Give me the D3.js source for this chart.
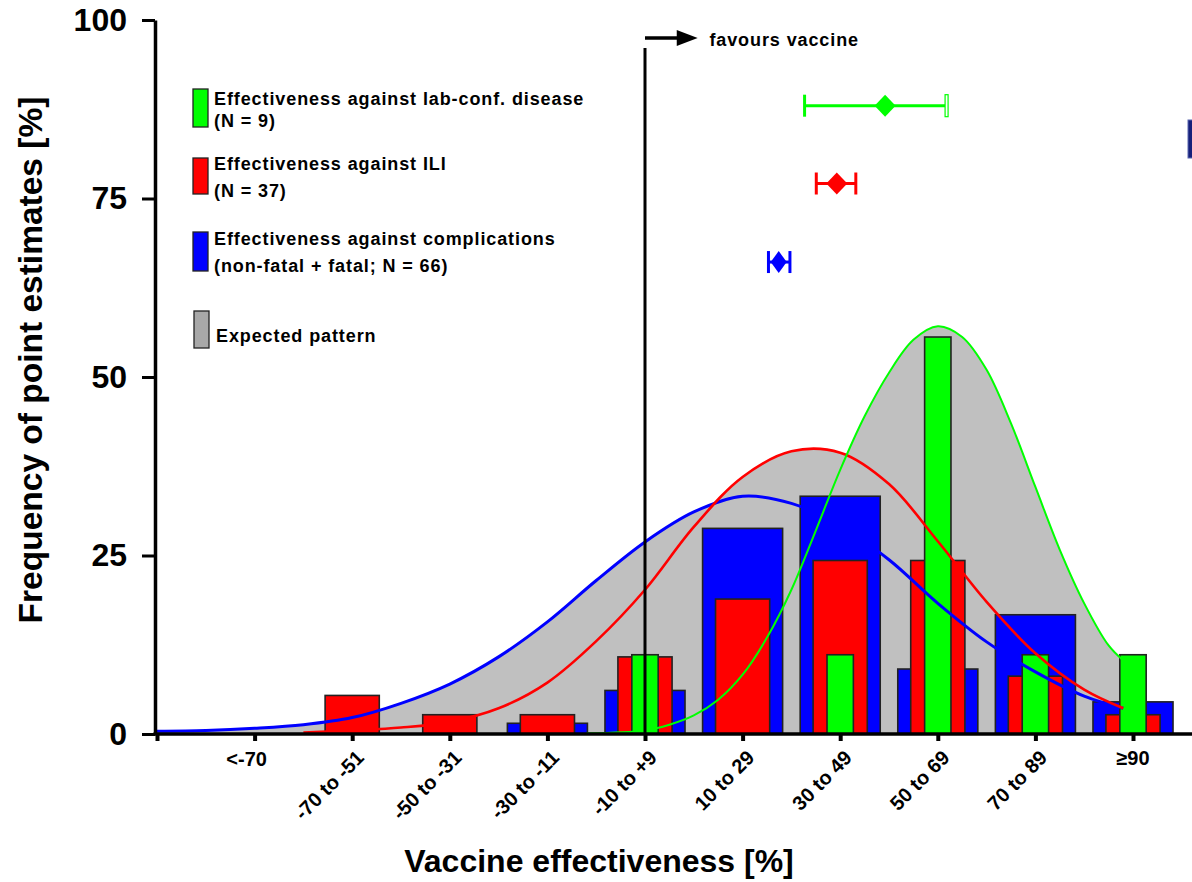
<!DOCTYPE html>
<html>
<head>
<meta charset="utf-8">
<script src="https://cdn.jsdelivr.net/npm/d3@7"></script>
<style>
body { margin: 0; background: #fff; }
text { font-family: Arial, "Liberation Sans", sans-serif; }
</style>
</head>
<body>
<script>
// categories (bins of vaccine effectiveness, %)
var bins = ["<-70", "-70 to -51", "-50 to -31", "-30 to -11", "-10 to +9", "10 to 29", "30 to 49", "50 to 69", "70 to 89", "\u226590"];
var binMid = [-80, -60, -40, -20, 0, 20, 40, 60, 80, 100];

// frequency of point estimates [%] per bin
var complications = [0, 0, 0, 1.5, 6.1, 28.8, 33.3, 9.1, 16.7, 4.5];
var ili = [0, 5.4, 2.7, 2.7, 10.8, 18.9, 24.3, 24.3, 8.1, 2.7];
var labConf = [0, 0, 0, 0, 11.1, 0, 11.1, 55.6, 11.1, 11.1];

// fitted curves
var compFitVE = [-100, -90, -80, -70, -60, -50, -40, -30, -20, -10, 0, 10, 20, 30, 40, 50, 60, 70, 80, 90, 98];
var compFit = [0.4, 0.5, 0.8, 1.3, 2.3, 4.3, 7.0, 10.8, 15.7, 21.5, 26.9, 31.1, 33.3, 32.3, 29.2, 24.4, 18.3, 12.9, 8.7, 5.3, 3.6];
var iliFitVE = [-70, -60, -50, -40, -30, -20, -10, 0, 10, 20, 30, 40, 50, 60, 70, 80, 90, 98];
var iliFit = [0.2, 0.5, 0.9, 1.7, 3.6, 7.2, 13.0, 20.2, 29.0, 36.0, 39.6, 39.4, 35.0, 27.0, 18.5, 11.3, 6.2, 3.6];
var labFitVE = [-12, 0, 5, 10, 15, 20, 25, 30, 35, 40, 45, 50, 55, 60, 65, 70, 75, 80, 85, 90, 95, 98];
var labFit = [0.1, 0.5, 1.3, 2.6, 4.8, 8.3, 13.5, 20.2, 28.5, 37.0, 44.5, 50.6, 55.2, 57.1, 55.6, 51.0, 43.5, 34.6, 25.8, 18.3, 12.4, 10.3];

// pooled estimates with CI (lab-conf, ILI, complications)
var pooledVE = [49.2, 39.3, 27.4];
var pooledLo = [32.7, 35.1, 25.3];
var pooledHi = [61.8, 43.2, 29.7];
var pooledRow = [88, 77.1, 66.1];

var yTicks = [0, 25, 50, 75, 100];
var xTicks = [-100, -80, -60, -40, -20, 0, 20, 40, 60, 80, 100];

var legendLines = [
    ["Effectiveness against lab-conf. disease", "(N = 9)"],
    ["Effectiveness against ILI", "(N = 37)"],
    ["Effectiveness against complications", "(non-fatal + fatal; N = 66)"],
    ["Expected pattern"]
];

var colBlue = "#0000ff", colRed = "#ff0000", colGreen = "#00ff00", colGray = "#c0c0c0";

var svgWidth = 1192;
var svgHeight = 882;

var svg = d3.select("body")
    .append("svg")
    .attr("width", svgWidth)
    .attr("height", svgHeight);

// scales
var x = d3.scaleLinear().domain([-100, 100]).range([157, 1133]);
var y = d3.scaleLinear().domain([0, 100]).range([734, 20]);
var step = x(20) - x(0);

function fitPoints(ve, vals) {
    return ve.map(function(v, i) { return [v, vals[i]]; });
}
var fits = [
    {pts: fitPoints(compFitVE, compFit), color: colBlue, w: 3},
    {pts: fitPoints(iliFitVE, iliFit), color: colRed, w: 2.6},
    {pts: fitPoints(labFitVE, labFit), color: colGreen, w: 2}
];

// grey "expected pattern" = union of the areas under the fits
var area = d3.area()
    .x(function(d) { return x(d[0]); })
    .y0(y(0))
    .y1(function(d) { return y(d[1]); })
    .curve(d3.curveCatmullRom);

fits.forEach(function(f) {
    svg.append("path")
        .attr("d", area(f.pts))
        .attr("fill", colGray);
});

// bars: blue widest, red, green narrowest, all centred on the bin
var barSeries = [
    {vals: complications, color: colBlue, frac: 0.82},
    {vals: ili, color: colRed, frac: 0.555},
    {vals: labConf, color: colGreen, frac: 0.27}
];

barSeries.forEach(function(s) {
    var bw = step * s.frac;
    svg.append("g").selectAll("rect")
        .data(binMid.map(function(m, i) { return {m: m, v: s.vals[i]}; }).filter(function(d) { return d.v > 0; }))
        .enter()
        .append("rect")
        .attr("x", function(d) { return x(d.m) - bw / 2; })
        .attr("y", function(d) { return y(d.v); })
        .attr("width", bw)
        .attr("height", function(d) { return y(0) - y(d.v); })
        .attr("fill", s.color)
        .attr("stroke", "#222")
        .attr("stroke-width", 1.6);
});

// fitted curves
var line = d3.line()
    .x(function(d) { return x(d[0]); })
    .y(function(d) { return y(d[1]); })
    .curve(d3.curveCatmullRom);

fits.forEach(function(f) {
    svg.append("path")
        .attr("d", line(f.pts))
        .attr("fill", "none")
        .attr("stroke", f.color)
        .attr("stroke-width", f.w);
});

// reference line at 0 and "favours vaccine" arrow
svg.append("line")
    .attr("x1", x(0)).attr("x2", x(0))
    .attr("y1", 48).attr("y2", y(0))
    .attr("stroke", "#000").attr("stroke-width", 3);

svg.append("line")
    .attr("x1", x(0)).attr("x2", x(7))
    .attr("y1", 38).attr("y2", 38)
    .attr("stroke", "#000").attr("stroke-width", 3.5);

svg.append("path")
    .attr("d", "M" + x(6.5) + ",30 L" + x(10.8) + ",38 L" + x(6.5) + ",46 Z")
    .attr("fill", "#000");

svg.append("text")
    .attr("x", x(13.2))
    .attr("y", 46)
    .style("font-size", "18px")
    .style("font-weight", "bold")
    .style("letter-spacing", "0.9px")
    .text("favours vaccine");

// pooled estimates with error bars
var pooledCol = [colGreen, colRed, colBlue];
pooledVE.forEach(function(v, i) {
    var g = svg.append("g");
    var cy = y(pooledRow[i]);
    var c = pooledCol[i];
    g.append("line")
        .attr("x1", x(pooledLo[i])).attr("x2", x(pooledHi[i]))
        .attr("y1", cy).attr("y2", cy)
        .attr("stroke", c).attr("stroke-width", 3);
    g.append("line")
        .attr("x1", x(pooledLo[i])).attr("x2", x(pooledLo[i]))
        .attr("y1", cy - 11).attr("y2", cy + 11)
        .attr("stroke", c).attr("stroke-width", 3);
    if (i === 0) {
        // open cap on the upper limit
        g.append("rect")
            .attr("x", x(pooledHi[i]) - 1.5).attr("y", cy - 11)
            .attr("width", 3).attr("height", 22)
            .attr("fill", "#fff").attr("stroke", c).attr("stroke-width", 1.2);
    } else {
        g.append("line")
            .attr("x1", x(pooledHi[i])).attr("x2", x(pooledHi[i]))
            .attr("y1", cy - 11).attr("y2", cy + 11)
            .attr("stroke", c).attr("stroke-width", 3);
    }
    var px = x(v);
    var hw = i === 2 ? 8 : 10.5;
    g.append("path")
        .attr("d", "M" + px + "," + (cy - 11) + " L" + (px + hw) + "," + cy +
            " L" + px + "," + (cy + 11) + " L" + (px - hw) + "," + cy + " Z")
        .attr("fill", c);
});

// small cut-off mark at the right edge
svg.append("rect")
    .attr("x", 1188).attr("y", 120)
    .attr("width", 8).attr("height", 38)
    .attr("fill", "#16207a")
    .attr("stroke", "#5a66b0").attr("stroke-width", 1);

// y axis
var yAxis = d3.axisLeft(y)
    .tickValues(yTicks)
    .tickSize(13)
    .tickSizeOuter(0)
    .tickPadding(15);

var gy = svg.append("g")
    .attr("transform", "translate(155,0)")
    .call(yAxis);
gy.select(".domain").attr("stroke-width", 3.5).attr("stroke", "#000");
gy.selectAll(".tick line").attr("stroke-width", 3).attr("stroke", "#000");
gy.selectAll(".tick text")
    .attr("font-family", "Arial, 'Liberation Sans', sans-serif")
    .style("font-size", "32px")
    .style("font-weight", "bold")
    .attr("fill", "#000");

// x axis
svg.append("line")
    .attr("x1", 153.5).attr("x2", svgWidth)
    .attr("y1", y(0)).attr("y2", y(0))
    .attr("stroke", "#000").attr("stroke-width", 3.5);

var xAxis = d3.axisBottom(x)
    .tickValues(xTicks)
    .tickSize(7)
    .tickSizeOuter(0)
    .tickFormat("");

var gx = svg.append("g")
    .attr("transform", "translate(0," + y(0) + ")")
    .call(xAxis);
gx.select(".domain").remove();
gx.selectAll(".tick line").attr("stroke-width", 4).attr("stroke", "#000");

// x tick labels
svg.append("g").selectAll("text")
    .data(bins)
    .enter()
    .append("text")
    .style("font-size", "20px")
    .style("font-weight", "bold")
    .attr("text-anchor", function(d, i) { return (i === 0 || i === bins.length - 1) ? "middle" : "end"; })
    .attr("transform", function(d, i) {
        var px = x(binMid[i]);
        if (i === 0) return "translate(" + (px - 8) + ",766)";
        if (i === bins.length - 1) return "translate(" + px + ",765)";
        return "translate(" + (px + 13) + ",759) rotate(-45)";
    })
    .text(function(d) { return d; });

// axis titles
svg.append("text")
    .attr("x", 599)
    .attr("y", 872)
    .attr("text-anchor", "middle")
    .style("font-size", "32px")
    .style("font-weight", "bold")
    .text("Vaccine effectiveness [%]");

svg.append("text")
    .attr("transform", "translate(42," + 360 + ") rotate(-90)")
    .attr("text-anchor", "middle")
    .style("font-size", "33.5px")
    .style("font-weight", "bold")
    .text("Frequency of point estimates [%]");

// legend
var legendCols = [colGreen, colRed, colBlue, "#a8a8a8"];
var legendBox = [[193, 89, 38], [193, 158, 36], [193, 232, 39], [194, 311, 37]];
var legendBase = [[105, 127], [170, 197], [245, 272], [342]];

legendLines.forEach(function(lines, i) {
    var b = legendBox[i];
    svg.append("rect")
        .attr("x", b[0]).attr("y", b[1])
        .attr("width", 15).attr("height", b[2])
        .attr("fill", legendCols[i])
        .attr("stroke", "#222").attr("stroke-width", 1.3);
    lines.forEach(function(t, j) {
        svg.append("text")
            .attr("x", i === 3 ? 216 : 214)
            .attr("y", legendBase[i][j])
            .style("font-size", "18px")
            .style("font-weight", "bold")
            .style("letter-spacing", "0.9px")
            .text(t);
    });
});
</script>
</body>
</html>
